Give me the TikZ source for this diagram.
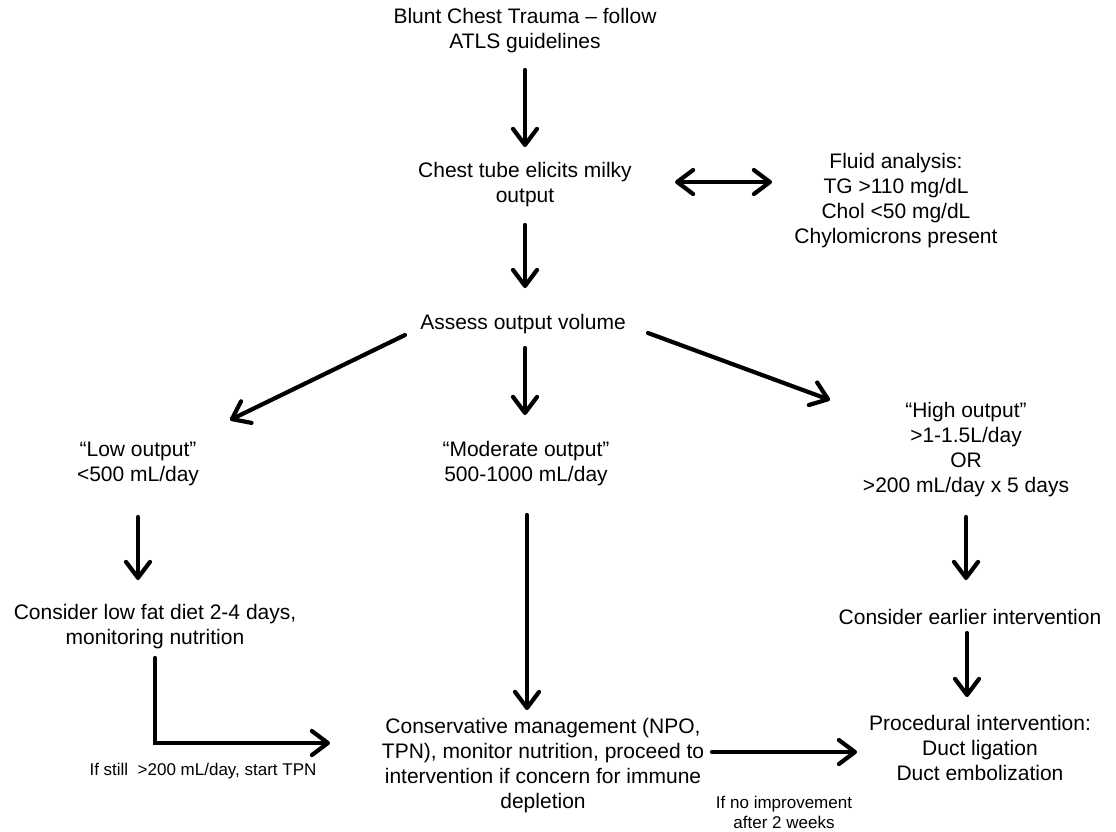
\documentclass[tikz,border=0pt]{standalone}
\usepackage{fontspec}
\setmainfont{Liberation Sans}
\usetikzlibrary{arrows.meta}
\begin{document}
\begin{tikzpicture}[x=1pt,y=-1pt,
  txt/.style={align=center, inner sep=0pt, font=\fontsize{21}{25}\selectfont},
  small/.style={align=center, inner sep=0pt, font=\fontsize{17}{20}\selectfont},
  barb/.tip={Straight Barb[length=16pt,width=24pt,round]},
  arr/.style={line width=4.2pt, line cap=round, -barb},
  darr/.style={line width=4.2pt, barb-barb}]
\useasboundingbox[fill=white] (0,0) rectangle (1116,831);

\node[txt] (top) at (525,31) {Blunt Chest Trauma – follow\\ATLS guidelines};
\node[txt] (chest) at (525,185) {Chest tube elicits milky\\output};
\node[txt] (fluid) at (896,201) {Fluid analysis:\\TG >110 mg/dL\\Chol <50 mg/dL\\Chylomicrons present};
\node[txt] (assess) at (523,324) {Assess output volume};
\node[txt] (low) at (138,464) {“Low output”\\<500 mL/day};
\node[txt] (mod) at (526,464) {“Moderate output”\\500-1000 mL/day};
\node[txt] (high) at (966,450) {“High output”\\>1-1.5L/day\\OR\\>200 mL/day x 5 days};
\node[txt] (diet) at (155,627) {Consider low fat diet 2-4 days,\\monitoring nutrition};
\node[txt] (earlier) at (970,617) {Consider earlier intervention};
\node[txt] (proc) at (980,748) {Procedural intervention:\\Duct ligation\\Duct embolization};
\node[txt] (cons) at (543,766) {Conservative management (NPO,\\TPN), monitor nutrition, proceed to\\intervention if concern for immune\\depletion};
\node[small] (still) at (203,771) {If still \ >200 mL/day, start TPN};
\node[small] (noimp) at (784,812) {If no improvement\\after 2 weeks};

\draw[arr] ([shift={(0,39)}]top.center) -- ([shift={(0,-38)}]chest.center);
\draw[darr] ([shift={(150,-3)}]chest.center) -- ([shift={(-124,-19)}]fluid.center);
\draw[arr] ([shift={(0,40)}]chest.center) -- ([shift={(2,-36)}]assess.center);
\draw[arr] ([shift={(-118,11)}]assess.center) -- ([shift={(92,-44)}]low.center);
\draw[arr] ([shift={(2,24)}]assess.center) -- ([shift={(-1,-49)}]mod.center);
\draw[arr] ([shift={(125,9)}]assess.center) -- ([shift={(-136,-50)}]high.center);
\draw[arr] ([shift={(0,53)}]low.center) -- ([shift={(-17,-47)}]diet.center);
\draw[arr] ([shift={(1,51)}]mod.center) -- ([shift={(-16,-56)}]cons.center);
\draw[arr] ([shift={(0,67)}]high.center) -- ([shift={(-4,-37)}]earlier.center);
\draw[arr] ([shift={(-3,16)}]earlier.center) -- ([shift={(-13,-51)}]proc.center);
\draw[arr, line join=miter] ([shift={(0,31)}]diet.center) |- ([shift={(-213,-23)}]cons.center);
\draw[arr] ([shift={(169,-14)}]cons.center) -- ([shift={(-123,4)}]proc.center);
\end{tikzpicture}
\end{document}
